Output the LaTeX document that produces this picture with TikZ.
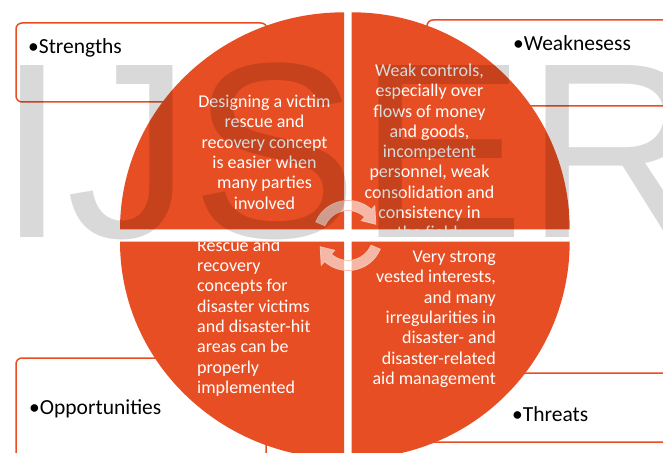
\documentclass[tikz,border=0pt]{standalone}
\usepackage{fontspec}
\setmainfont{Carlito}
\newfontfamily\wmfont{Liberation Sans}
\usetikzlibrary{calc}
\definecolor{swot}{RGB}{232,78,35}
\definecolor{arrowline}{RGB}{246,196,182}
\begin{document}
\begin{tikzpicture}[x=1bp,y=1bp,yscale=-1,
  box/.style={draw=swot, line width=1.5bp, fill=white, rounded corners=6bp},
  inner/.style={text=white, font=\fontsize{18bp}{20.3bp}\selectfont, inner sep=0pt},
  boxlabel/.style={font=\fontsize{21.5bp}{26bp}\selectfont, text=black, inner sep=0pt, anchor=base west},
  cyc/.style={fill=white, fill opacity=0.6, draw=arrowline, line width=0.8bp},
  quad/.style={fill=swot}]
\useasboundingbox (0,0) rectangle (663,453);
\clip (0,0) rectangle (663,453);
\fill[white] (0,0) rectangle (663,453);

% outer boxes
\draw[box] (16,23) rectangle (267,102);
\draw[box] (427,20) rectangle (680,106);
\draw[box] (16,358) rectangle (266,475);
\draw[box] (427,373) rectangle (680,442);

% quadrants with their texts (anchored at the baseline of the last line)
\begin{scope}
  \clip (344,229.3) -- (120,229.3) arc[start angle=180,end angle=270,x radius=224,y radius=217] -- cycle;
  \fill[quad] (0,0) rectangle (663,453);
  \node[inner, align=center, anchor=base] (ts) at (264.5,209.2)
    {Designing a victim\\rescue and\\recovery concept\\is easier when\\many parties\\involved};
\end{scope}
\begin{scope}
  \clip (351.7,229.3) -- (351.7,12.3) arc[start angle=270,end angle=360,x radius=218,y radius=217] -- cycle;
  \fill[quad] (0,0) rectangle (663,453);
  \node[inner, align=center, anchor=base] (tw) at (429.5,238.9)
    {Weak controls,\\especially over\\flows of money\\and goods,\\incompetent\\personnel, weak\\consolidation and\\consistency in\\the field.};
\end{scope}
\begin{scope}
  \clip (344,241.7) -- (344,458.7) arc[start angle=90,end angle=180,x radius=224,y radius=217] -- cycle;
  \fill[quad] (0,0) rectangle (663,453);
  \node[inner, align=left, anchor=base west] (to) at (197,393.4)
    {Rescue and\\recovery\\concepts for\\disaster victims\\and disaster-hit\\areas can be\\properly\\implemented};
\end{scope}
\begin{scope}
  \clip (351.7,241.7) -- (569.7,241.7) arc[start angle=0,end angle=90,x radius=218,y radius=217] -- cycle;
  \fill[quad] (0,0) rectangle (663,453);
  \node[inner, align=right, anchor=base east] (tt) at (496,384.5)
    {Very strong\\vested interests,\\and many\\irregularities in\\disaster- and\\disaster-related\\aid management};
\end{scope}

% circular arrows in the centre
\coordinate (c) at (348,235.5);
\path[cyc] ($(c)+(203:35)$) arc[start angle=203,end angle=312,radius=35]
  -- ($(c)+(312:40)$) -- ($(c)+(338:30)$) -- ($(c)+(312:20)$) -- ($(c)+(312:25)$)
  arc[start angle=312,end angle=203,radius=25] -- cycle;
\path[cyc] ($(c)+(23:35)$) arc[start angle=23,end angle=132,radius=35]
  -- ($(c)+(132:40)$) -- ($(c)+(158:30)$) -- ($(c)+(132:20)$) -- ($(c)+(132:25)$)
  arc[start angle=132,end angle=23,radius=25] -- cycle;

% box labels
\node[boxlabel] (ls) at (28,53.3) {•Strengths};
\node[boxlabel] (lw) at (513,50.7) {•Weaknesess};
\node[boxlabel] (lo) at (29,414) {•Opportunities};
\node[boxlabel] (lt) at (512,421.7) {•Threats};

% watermark
\node[anchor=base west, inner sep=0pt, text=black, text opacity=0.15,
  font=\wmfont\fontsize{250bp}{250bp}\selectfont] (wm) at (-3,237.5) {IJSER};
\end{tikzpicture}
\end{document}
